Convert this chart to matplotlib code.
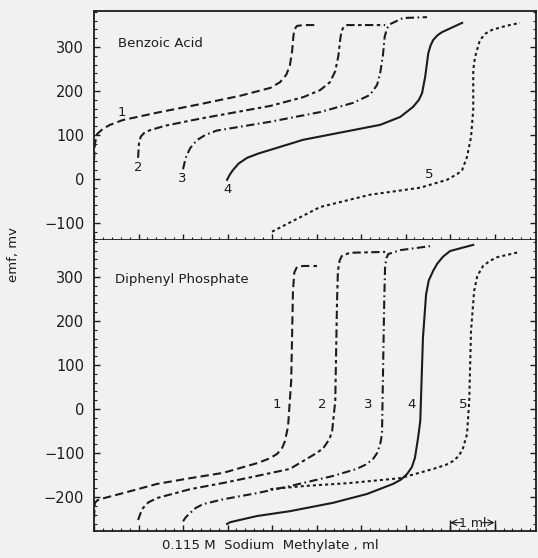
import matplotlib
matplotlib.use("Agg")
import matplotlib.pyplot as plt
from matplotlib.ticker import MultipleLocator

plt.rcParams['font.family'] = ['DejaVu Sans']
plt.rcParams['lines.scale_dashes'] = False

# ---- Benzoic acid (top panel): ml, mv
ba1_x = [0.00, 0.02, 0.07, 0.20, 0.36, 0.65, 1.48, 2.38, 3.28, 3.96, 4.18, 4.32, 4.40, 4.45, 4.48, 4.50, 4.56, 4.70, 5.01]
ba1_y = [43, 80, 102, 114, 123, 134, 152, 170, 189, 207, 220, 237, 258, 290, 325, 340, 348, 350, 350]
ba2_x = [0.99, 1.01, 1.05, 1.12, 1.26, 1.60, 2.38, 3.96, 4.70, 5.08, 5.30, 5.42, 5.49, 5.53, 5.56, 5.61, 5.69, 6.54]
ba2_y = [48, 80, 96, 104, 111, 121, 137, 166, 186, 202, 220, 245, 280, 316, 336, 346, 350, 350]
ba3_x = [2.00, 2.06, 2.16, 2.31, 2.50, 2.76, 3.96, 5.08, 5.82, 6.20, 6.36, 6.43, 6.49, 6.53, 6.58, 6.65, 6.94, 7.48]
ba3_y = [22, 48, 70, 88, 100, 110, 130, 152, 173, 191, 214, 241, 280, 323, 342, 352, 366, 368]
ba4_x = [2.99, 3.04, 3.12, 3.25, 3.44, 3.70, 3.96, 4.70, 5.82, 6.43, 6.88, 7.17, 7.30, 7.37, 7.44, 7.51, 7.56, 7.62, 7.72, 7.82, 8.27]
ba4_y = [-2, 8, 20, 35, 48, 58, 66, 89, 111, 123, 141, 164, 180, 195, 232, 286, 303, 316, 327, 334, 355]
ba5_x = [4.00, 5.08, 6.20, 7.33, 7.93, 8.16, 8.27, 8.38, 8.47, 8.52, 8.52, 8.56, 8.67, 8.80, 8.94, 9.25, 9.57]
ba5_y = [-120, -64, -36, -20, -2, 11, 20, 50, 95, 157, 248, 277, 316, 331, 339, 348, 355]

# ---- Diphenyl phosphate (bottom panel)
dp1_x = [0.00, 0.02, 0.08, 0.20, 0.65, 1.42, 2.16, 2.90, 3.66, 3.95, 4.11, 4.22, 4.29, 4.36, 4.43, 4.47, 4.50, 4.56, 4.70, 5.01]
dp1_y = [-248, -213, -207, -203, -191, -170, -157, -145, -123, -112, -102, -90, -73, -39, 64, 268, 310, 323, 325, 325]
dp2_x = [0.99, 1.04, 1.10, 1.22, 1.42, 2.16, 2.90, 3.66, 4.40, 4.70, 5.00, 5.15, 5.29, 5.35, 5.42, 5.46, 5.48, 5.52, 5.57, 5.75, 6.54]
dp2_y = [-252, -238, -225, -212, -202, -182, -168, -152, -136, -118, -100, -89, -68, -50, 18, 245, 314, 338, 348, 355, 357]
dp3_x = [2.00, 2.06, 2.16, 2.28, 2.45, 2.90, 3.66, 4.40, 5.37, 5.90, 6.13, 6.28, 6.36, 6.43, 6.47, 6.49, 6.52, 6.54, 6.57, 6.61, 6.88, 7.55]
dp3_y = [-255, -246, -236, -225, -216, -205, -191, -175, -152, -136, -125, -112, -100, -80, -57, 64, 245, 325, 343, 352, 361, 370]
dp4_x = [2.99, 3.06, 3.66, 4.40, 5.37, 6.13, 6.72, 6.90, 7.03, 7.14, 7.21, 7.28, 7.33, 7.39, 7.46, 7.52, 7.62, 7.71, 7.84, 8.00, 8.52]
dp4_y = [-261, -257, -243, -232, -213, -193, -170, -160, -148, -132, -111, -66, -27, 161, 260, 292, 314, 330, 346, 359, 373]
dp5_x = [3.96, 4.70, 5.75, 6.88, 7.62, 7.90, 8.07, 8.20, 8.29, 8.38, 8.43, 8.47, 8.54, 8.61, 8.74, 8.90, 9.06, 9.57]
dp5_y = [-182, -175, -168, -157, -136, -127, -118, -106, -89, -57, 18, 177, 268, 302, 325, 337, 345, 357]

curve_labels = ['1', '2', '3', '4', '5']
top_label_pos = [(0.63, 152), (0.99, 25), (1.98, 0), (2.99, -23), (7.53, 9)]
bot_label_pos = [(4.11, 11), (5.12, 11), (6.15, 11), (7.14, 11), (8.29, 11)]

ink = '#1c1c1c'
bg = '#f1f1f1'
styles = [
    dict(dashes=[6, 3]),
    dict(dashes=[6, 2.5, 2.5, 2.5]),
    dict(dashes=[6, 2.5, 1.2, 2.5]),
    dict(linestyle='-'),
    dict(dashes=[2.2, 2.2]),
]

fig = plt.figure(figsize=(5.38, 5.58), dpi=100, facecolor=bg)
ax1 = fig.add_axes([94/538, 318/558, 442/538, 229/558], facecolor=bg)
ax2 = fig.add_axes([94/538, 27/558, 442/538, 291/558], facecolor=bg)

top = [(ba1_x, ba1_y), (ba2_x, ba2_y), (ba3_x, ba3_y), (ba4_x, ba4_y), (ba5_x, ba5_y)]
bot = [(dp1_x, dp1_y), (dp2_x, dp2_y), (dp3_x, dp3_y), (dp4_x, dp4_y), (dp5_x, dp5_y)]

for (x, y), st in zip(top, styles):
    ax1.plot(x, y, color=ink, lw=1.5, solid_joinstyle='round', **st)
for (x, y), st in zip(bot, styles):
    ax2.plot(x, y, color=ink, lw=1.5, solid_joinstyle='round', **st)

for lab, (x, y) in zip(curve_labels, top_label_pos):
    ax1.text(x, y, lab, ha='center', va='center', fontsize=9.5, color=ink)
for lab, (x, y) in zip(curve_labels, bot_label_pos):
    ax2.text(x, y, lab, ha='center', va='center', fontsize=9.5, color=ink)

ax1.text(0.54, 309, 'Benzoic Acid', fontsize=9.5, va='center', color=ink)
ax2.text(0.47, 295, 'Diphenyl Phosphate', fontsize=9.5, va='center', color=ink)

for ax in (ax1, ax2):
    ax.set_xlim(0, 9.93)
    ax.xaxis.set_major_locator(MultipleLocator(1))
    ax.xaxis.set_minor_locator(MultipleLocator(0.2))
    ax.yaxis.set_major_locator(MultipleLocator(100))
    ax.yaxis.set_minor_locator(MultipleLocator(20))
    ax.tick_params(which='both', direction='in', right=True, top=False,
                   labelbottom=False, color=ink, labelcolor=ink, labelsize=10.5, pad=7)
    ax.tick_params(which='major', length=4, width=1)
    ax.tick_params(which='minor', length=2, width=0.8)
    for s in ax.spines.values():
        s.set_color(ink)
        s.set_linewidth(1.3)
    ax.set_yticks(ax.get_yticks())
    ax.set_yticklabels([str(int(v)).replace('-', '\u2212') for v in ax.get_yticks()])
ax1.set_ylim(-139, 382)
ax2.set_ylim(-277, 384)
ax2.spines['top'].set_visible(False)

# 1 ml scale bar
ax2.vlines([8.0, 9.0], -277, -252, color=ink, lw=1)
ax2.text(8.5, -259, '1 ml', ha='center', va='center', fontsize=9, color=ink)
ax2.annotate('', xy=(8.0, -258), xytext=(8.27, -258),
             arrowprops=dict(arrowstyle='->', color=ink, lw=0.8, shrinkA=0, shrinkB=0))
ax2.annotate('', xy=(9.0, -258), xytext=(8.73, -258),
             arrowprops=dict(arrowstyle='->', color=ink, lw=0.8, shrinkA=0, shrinkB=0))

fig.text(270/538, 1 - 546/558, '0.115 M  Sodium  Methylate , ml', ha='center', va='center',
         fontsize=9.5, color=ink)
fig.text(14/538, 1 - 255/558, 'emf, mv', ha='center', va='center', rotation=90,
         fontsize=9.5, color=ink)

fig.savefig('out.png', dpi=100, facecolor=bg)
